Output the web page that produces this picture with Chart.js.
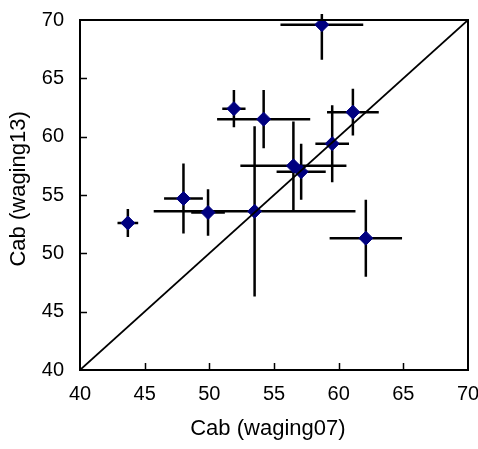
<!DOCTYPE html>
<html>
<head>
<meta charset="utf-8">
<script src="https://cdn.jsdelivr.net/npm/chart.js@4.4.1/dist/chart.umd.min.js"></script>
<style>
  html, body { margin: 0; padding: 0; background: #fff; }
  #wrap { width: 478px; height: 449px; }
</style>
</head>
<body>
<div id="wrap"><canvas id="cabChart"></canvas></div>
<script>
// Cab 비교: waging07 vs waging13 (평균 ± 표준편차)
const cab07 = [43.7, 48.0, 49.9, 53.5, 51.9, 54.2, 56.5, 57.1, 59.5, 61.1, 62.1, 58.7];
const cab13 = [52.6, 54.7, 53.5, 53.6, 62.4, 61.5, 57.5, 57.0, 59.4, 62.1, 51.3, 69.6];
const err07 = [0.8, 1.5, 1.3, 7.8, 0.9, 3.6, 4.1, 1.9, 1.3, 2.0, 2.8, 3.2];
const err13 = [1.2, 3.0, 2.0, 7.3, 1.6, 2.5, 3.8, 2.4, 3.3, 2.0, 3.3, 3.0];
const axisTicks = [40, 45, 50, 55, 60, 65, 70];
const oneToOne = [40, 70];

const FONT = 'Arial, "Liberation Sans", sans-serif';

// 에러바 (마커 아래에 그림)
const errorBars = {
    id: 'errorBars',
    beforeDatasetsDraw(chart) {
        const { ctx, chartArea: a, scales: { x, y } } = chart;
        ctx.save();
        ctx.beginPath();
        ctx.rect(a.left, a.top - 6, a.right - a.left, a.bottom - a.top + 6);
        ctx.clip();
        ctx.strokeStyle = '#000';
        ctx.lineWidth = 2.5;
        cab07.forEach((v, i) => {
            const px = x.getPixelForValue(v);
            const py = y.getPixelForValue(cab13[i]);
            ctx.beginPath();
            ctx.moveTo(x.getPixelForValue(v - err07[i]), py);
            ctx.lineTo(x.getPixelForValue(v + err07[i]), py);
            ctx.moveTo(px, y.getPixelForValue(cab13[i] - err13[i]));
            ctx.lineTo(px, y.getPixelForValue(cab13[i] + err13[i]));
            ctx.stroke();
        });
        ctx.restore();
    }
};

// 플롯 테두리 + 안쪽 눈금
const frame = {
    id: 'frame',
    afterDraw(chart) {
        const { ctx, chartArea: a, scales: { x, y } } = chart;
        ctx.save();
        ctx.strokeStyle = '#000';
        ctx.lineWidth = 1.5;
        ctx.beginPath();
        axisTicks.slice(1, -1).forEach(t => {
            const px = Math.round(x.getPixelForValue(t)) + 0.5;
            ctx.moveTo(px, a.bottom);
            ctx.lineTo(px, a.bottom - 7);
            const py = Math.round(y.getPixelForValue(t)) + 0.5;
            ctx.moveTo(a.left, py);
            ctx.lineTo(a.left + 7, py);
        });
        ctx.stroke();
        ctx.lineWidth = 2;
        ctx.strokeRect(a.left, a.top, a.right - a.left, a.bottom - a.top);
        ctx.restore();
    }
};

const ctx = document.getElementById('cabChart');
new Chart(ctx, {
    type: 'scatter',
    data: {
        datasets: [{
            type: 'line',
            data: oneToOne.map(v => ({ x: v, y: v })),
            borderColor: '#000',
            borderWidth: 1.75,
            pointRadius: 0,
            fill: false,
            order: 0
        }, {
            data: cab07.map((v, i) => ({ x: v, y: cab13[i] })),
            backgroundColor: '#000080',
            borderColor: '#000080',
            borderWidth: 1,
            pointStyle: 'rectRot',
            pointRadius: 7,
            pointHoverRadius: 7,
            order: 1
        }]
    },
    options: {
        responsive: true,
        maintainAspectRatio: false,
        animation: false,
        layout: { padding: { top: 20, right: 10, left: 0, bottom: 0 } },
        plugins: { legend: { display: false }, tooltip: { enabled: false } },
        scales: {
            x: {
                type: 'linear',
                min: 40, max: 70,
                afterBuildTicks: s => { s.ticks = axisTicks.map(v => ({ value: v })); },
                afterFit: s => { s.height = 79; s.paddingLeft = 0; s.paddingRight = 0; },
                grid: { display: false, drawTicks: false },
                border: { display: false },
                ticks: { color: '#000', padding: 12, maxRotation: 0, font: { family: FONT, size: 20 } },
                title: { display: true, text: 'Cab (waging07)  ', color: '#000', padding: { top: 0, bottom: 7 }, font: { family: FONT, size: 22 } }
            },
            y: {
                type: 'linear',
                min: 40, max: 70,
                afterBuildTicks: s => { s.ticks = axisTicks.map(v => ({ value: v })); },
                afterFit: s => { s.width = 80; s.paddingTop = 0; s.paddingBottom = 0; },
                grid: { display: false, drawTicks: false },
                border: { display: false },
                ticks: { color: '#000', padding: 16, font: { family: FONT, size: 20 } },
                title: { display: true, text: '  Cab (waging13)', color: '#000', padding: { top: 6, bottom: 0 }, font: { family: FONT, size: 22 } }
            }
        }
    },
    plugins: [errorBars, frame]
});
</script>
</body>
</html>
